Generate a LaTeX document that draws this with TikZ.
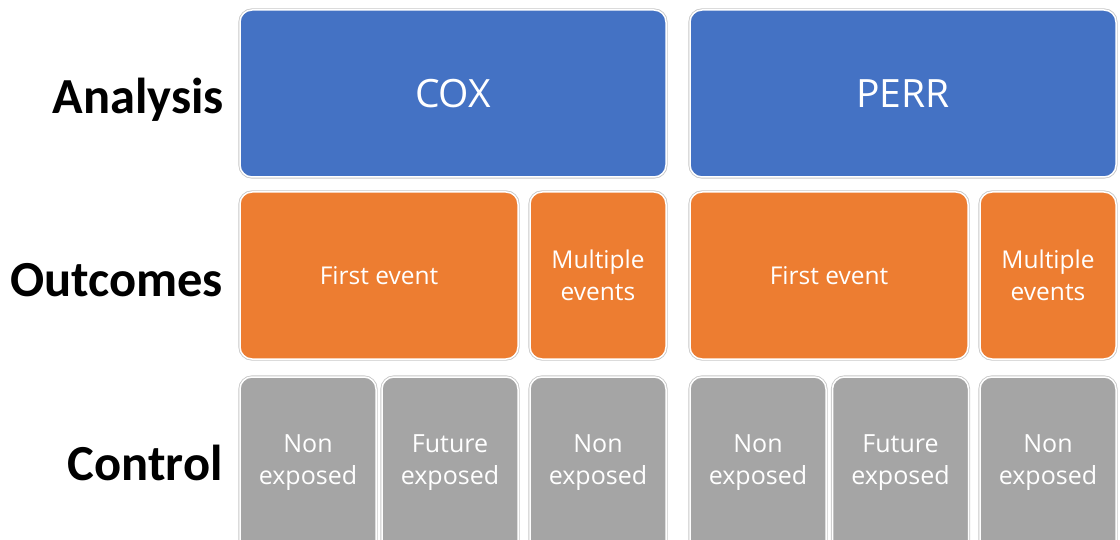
\documentclass[tikz,border=0pt]{standalone}
\usepackage{fontspec}
\setmainfont{Carlito}
\newfontfamily\boxfont{Open Sans}
\definecolor{cblue}{HTML}{4472C4}
\definecolor{corange}{HTML}{ED7D31}
\definecolor{cgray}{HTML}{A5A5A5}
\tikzset{
  box/.style={rounded corners=12pt, draw=white, line width=1.5pt, inner sep=0pt, outer sep=0pt,
    text=white, align=center, preaction={draw=black!22, line width=3.2pt}},
  bluebox/.style={box, fill=cblue, minimum width=426pt, minimum height=167pt,
    font=\boxfont\fontsize{39}{46}\selectfont},
  orangebox/.style={box, fill=corange, minimum height=167pt,
    font=\boxfont\fontsize{24.5}{32}\selectfont},
  graybox/.style={box, fill=cgray, minimum width=136pt, minimum height=180pt},
  graytext/.style={text=white, align=center, inner sep=0pt, font=\boxfont\fontsize{25}{32}\selectfont},
  rowlabel/.style={anchor=east, inner sep=0pt, font=\bfseries\fontsize{50.5}{56}\selectfont}
}
\begin{document}
\begin{tikzpicture}[x=1pt,y=-1pt]
\useasboundingbox (0,0) rectangle (1120,540);
\clip (0,0) rectangle (1120,540);
% row labels
\node[rowlabel] (lanalysis) at (224,100) {Analysis};
\node[rowlabel] (loutcomes) at (223,280) {Outcomes};
\node[rowlabel] (lcontrol) at (223,463) {Control};
% analysis
\node[bluebox] (cox) at (453,93.5) {COX};
\node[bluebox] (perr) at (903,93.5) {PERR};
% outcomes
\node[orangebox, minimum width=278pt] (coxfirst) at (379,275.5) {First event};
\node[orangebox, minimum width=136pt] (coxmult) at (598,275.5) {Multiple\\events};
\node[orangebox, minimum width=278pt] (perrfirst) at (829,275.5) {First event};
\node[orangebox, minimum width=136pt] (perrmult) at (1048,275.5) {Multiple\\events};
% control
\node[graybox] (c1) at (308,467) {};
\node[graybox] (c2) at (450,467) {};
\node[graybox] (c3) at (598,467) {};
\node[graybox] (c4) at (758,467) {};
\node[graybox] (c5) at (900.5,467) {};
\node[graybox] (c6) at (1048,467) {};
\foreach \n/\x/\t in {t1/308/Non, t2/450/Future, t3/598/Non, t4/758/Non, t5/900.5/Future, t6/1048/Non}
  \node[graytext] (\n) at (\x,463) {\t\\exposed};
\end{tikzpicture}
\end{document}
